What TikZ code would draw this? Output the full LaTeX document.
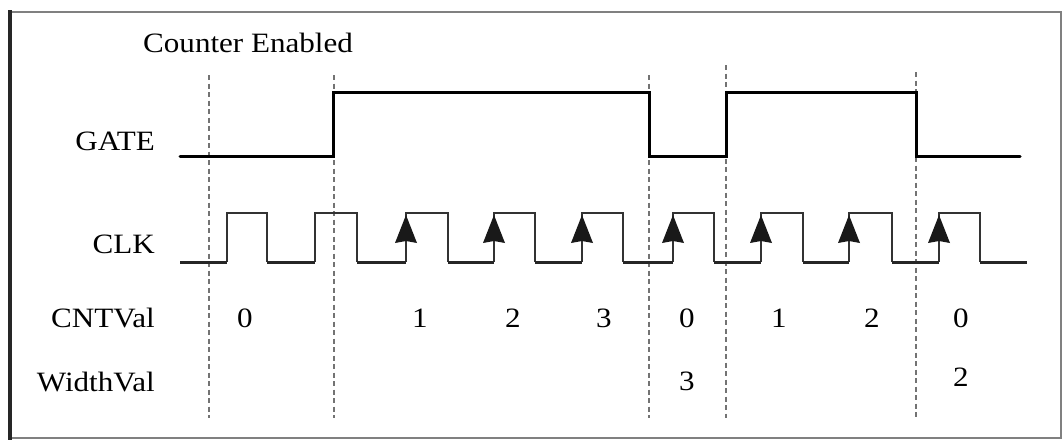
\documentclass[tikz,border=0pt]{standalone}
\usepackage{fontspec}
\setmainfont{Liberation Serif}
\newcommand{\widetxt}[1]{\scalebox{1.11}[1]{#1}}
\begin{document}
\begin{tikzpicture}[x=1pt,y=-1pt,
  txt/.style={font=\fontsize{28}{30}\selectfont, inner sep=0pt},
  lbl/.style={txt, anchor=base east},
  num/.style={txt, anchor=base},
  sig/.style={line width=3pt, line join=miter, line cap=round},
  clkline/.style={line width=1.4pt, black!80, line join=miter},
  clklow/.style={line width=3pt, black!85},
  guide/.style={black!55, line width=1.3pt, dash pattern=on 5pt off 3.5pt},
  edgemark/.style={fill=black!90}]
\useasboundingbox (0,0) rectangle (1063,442);
% frame
\draw[black!50, line width=2pt] (10,12) rectangle (1061,438);
\draw[black!85, line width=4pt] (10,10) -- (10,440);
% labels
\node[txt, anchor=base west] (ce) at (143,52) {\widetxt{Counter Enabled}};
\node[lbl] (gate) at (155,150) {\widetxt{GATE}};
\node[lbl] (clk) at (155,253) {\widetxt{CLK}};
\node[lbl] (cnt) at (155,327) {\widetxt{CNTVal}};
\node[lbl] (wid) at (155,391) {\widetxt{WidthVal}};
% guides
\draw[guide] (209,75) -- (209,418);
\draw[guide] (334,75) -- (334,418);
\draw[guide] (649,75) -- (649,418);
\draw[guide] (726,65) -- (726,418);
\draw[guide] (916,72) -- (916,418);
% GATE
\draw[sig] (180,156) -- (333,156) -- (333,92) -- (649,92) -- (649,156)
  -- (726,156) -- (726,92) -- (916,92) -- (916,156) -- (1020,156);
% CLK
\foreach \r/\f in {227/267,315/357,406/448,494/535,582/623,673/714,761/803,849/892,939/980}
  \draw[clkline] (\r,262) -- (\r,213) -- (\f,213) -- (\f,262);
\foreach \a/\b in {180/227,267/315,357/406,448/494,535/582,623/673,714/761,803/849,892/939,980/1027}
  \draw[clklow] (\a,262) -- (\b,262);
\foreach \r in {406,494,582,673,761,849,939}
  \fill[edgemark] (\r,215) -- (\r+11,243) -- (\r,241) -- (\r-11,243) -- cycle;
% CNTVal
\node[num] (c0) at (245,327) {\widetxt{0}};
\node[num] (c1) at (420,327) {\widetxt{1}};
\node[num] (c2) at (513,327) {\widetxt{2}};
\node[num] (c3) at (604,327) {\widetxt{3}};
\node[num] (c4) at (687,327) {\widetxt{0}};
\node[num] (c5) at (779,327) {\widetxt{1}};
\node[num] (c6) at (872,327) {\widetxt{2}};
\node[num] (c7) at (961,327) {\widetxt{0}};
% WidthVal
\node[num] (w1) at (687,390) {\widetxt{3}};
\node[num] (w2) at (961,386) {\widetxt{2}};
\end{tikzpicture}
\end{document}
